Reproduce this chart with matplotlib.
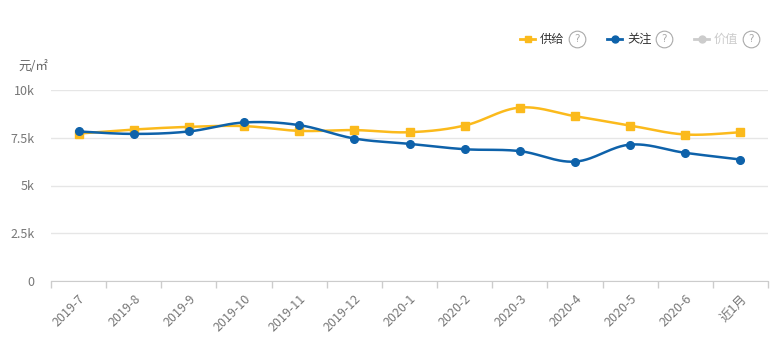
import numpy as np
import matplotlib
matplotlib.use("Agg")
import matplotlib.pyplot as plt
from matplotlib.lines import Line2D

plt.rcParams['font.family'] = ['Noto Sans CJK SC', 'DejaVu Sans']

categories = ["2019-7", "2019-8", "2019-9", "2019-10", "2019-11", "2019-12",
              "2020-1", "2020-2", "2020-3", "2020-4", "2020-5", "2020-6", "近1月"]
supply = [7720, 7930, 8070, 8110, 7860, 7900, 7790, 8140, 9080, 8630, 8140, 7670, 7790]
attention = [7830, 7700, 7830, 8300, 8160, 7460, 7180, 6900, 6800, 6250, 7140, 6710, 6360]
y_ticks = [0, 2500, 5000, 7500, 10000]
y_labels = ["0", "2.5k", "5k", "7.5k", "10k"]
legend_names = ["供给", "关注", "价值"]

YELLOW = "#FBBA1C"
BLUE = "#0E62AA"
GRAY_LEG = "#CCCCCC"
W, H = 778, 340

fig = plt.figure(figsize=(W / 100, H / 100), dpi=100)
ax = fig.add_axes([51 / W, 59 / H, 717 / W, 191 / H])


def smooth(xs, ys, n=30, t=0.35):
    xs = np.asarray(xs, float)
    ys = np.asarray(ys, float)
    outx, outy = [], []
    for i in range(len(xs) - 1):
        p0 = np.array([xs[max(i - 1, 0)], ys[max(i - 1, 0)]])
        p1 = np.array([xs[i], ys[i]])
        p2 = np.array([xs[i + 1], ys[i + 1]])
        p3 = np.array([xs[min(i + 2, len(xs) - 1)], ys[min(i + 2, len(xs) - 1)]])
        c1 = p1 + (p2 - p0) * t / 2
        c2 = p2 - (p3 - p1) * t / 2
        s = np.linspace(0, 1, n)[:, None]
        pts = (1 - s) ** 3 * p1 + 3 * (1 - s) ** 2 * s * c1 + 3 * (1 - s) * s ** 2 * c2 + s ** 3 * p2
        outx.extend(pts[:, 0])
        outy.extend(pts[:, 1])
    return np.array(outx), np.array(outy)


x = np.arange(len(categories))
sx, sy = smooth(x, supply)
ax.plot(sx, sy, color=YELLOW, lw=1.8, zorder=3, solid_capstyle='round')
ax.plot(x, supply, ls='none', marker='s', ms=5.5, color=YELLOW, zorder=4)
bx, by = smooth(x, attention)
ax.plot(bx, by, color=BLUE, lw=1.8, zorder=5, solid_capstyle='round')
ax.plot(x, attention, ls='none', marker='o', ms=5.5, color=BLUE, zorder=6)

ax.set_xlim(-0.5, len(categories) - 0.5)
ax.set_ylim(0, 10000)
ax.set_yticks(y_ticks)
ax.set_yticklabels(y_labels)
ax.set_xticks(x)
ax.set_xticklabels(categories, rotation=45, ha='right', rotation_mode='anchor')
ax.set_xticks(np.arange(-0.5, len(categories)), minor=True)
ax.tick_params(axis='x', which='major', length=0, pad=8, labelsize=9, labelcolor='#777777')
ax.tick_params(axis='x', which='minor', length=5, color='#CCCCCC', width=1)
ax.tick_params(axis='y', length=0, pad=12, labelsize=9, labelcolor='#777777')
for s in ['top', 'right', 'left']:
    ax.spines[s].set_visible(False)
ax.spines['bottom'].set_color('#CCCCCC')
ax.grid(axis='y', color='#E6E6E6', lw=1)
ax.set_axisbelow(True)

fig.text(18 / W, 1 - 66 / H, "元/㎡", fontsize=9, color='#666666', va='center', ha='left')

# legend
leg_items = [(520, YELLOW, 's', legend_names[0], '#333333'),
             (607, BLUE, 'o', legend_names[1], '#333333'),
             (694, GRAY_LEG, 'o', legend_names[2], GRAY_LEG)]
ly = 1 - 39 / H
for lx, col, mk, name, tc in leg_items:
    fig.add_artist(Line2D([lx / W, (lx + 15) / W], [ly, ly], color=col, lw=2,
                          transform=fig.transFigure))
    fig.add_artist(Line2D([(lx + 7.5) / W], [ly], color=col, marker=mk, ms=5,
                          transform=fig.transFigure))
    fig.text((lx + 20) / W, ly, name, fontsize=8.8, color=tc, va='center', ha='left')
    fig.add_artist(Line2D([(lx + 57) / W], [ly], ls='none', marker='o', ms=12, mfc='none',
                          mec='#AAAAAA', mew=0.8, transform=fig.transFigure))
    fig.text((lx + 57) / W, ly - 0.5 / H, "?", fontsize=7.5, color='#AAAAAA',
             va='center', ha='center', family=['DejaVu Sans'])

fig.savefig("out.png", dpi=100)
